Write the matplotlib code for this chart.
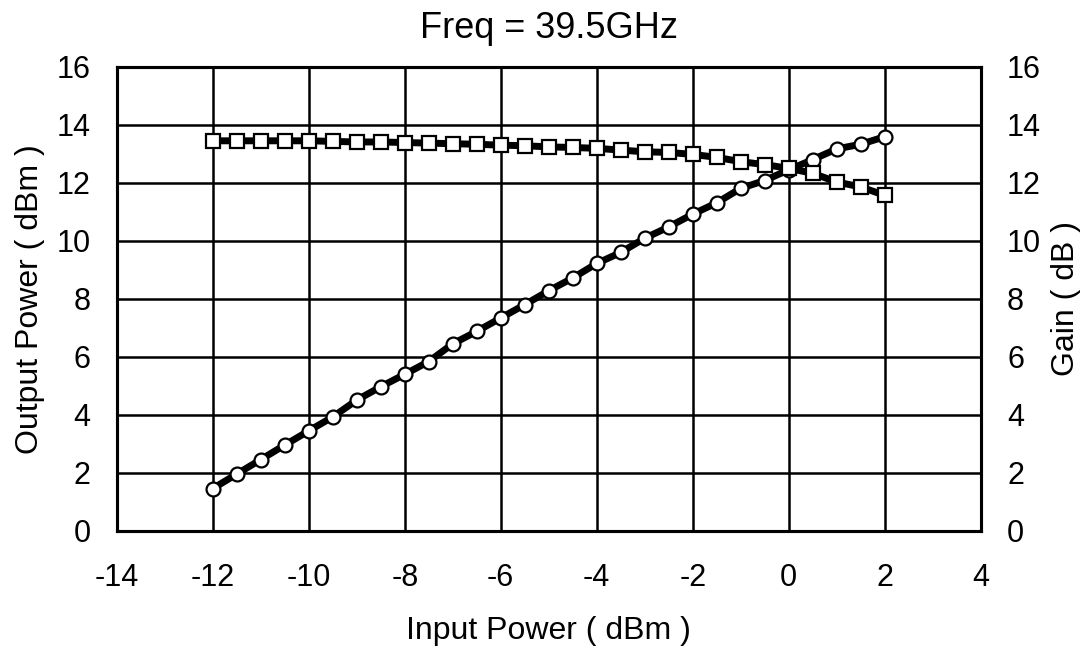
import matplotlib
matplotlib.use("Agg")
import matplotlib.pyplot as plt

plt.rcParams['font.family'] = ['Liberation Sans', 'DejaVu Sans']
plt.rcParams['axes.unicode_minus'] = False

# --- dados ---
input_power = [-12, -11.5, -11, -10.5, -10, -9.5, -9, -8.5, -8, -7.5, -7, -6.5, -6, -5.5,
               -5, -4.5, -4, -3.5, -3, -2.5, -2, -1.5, -1, -0.5, 0, 0.5, 1, 1.5, 2]
output_power = [1.46, 1.96, 2.46, 2.96, 3.45, 3.93, 4.51, 4.97, 5.40, 5.84, 6.45, 6.88, 7.34, 7.80,
                8.28, 8.72, 9.22, 9.60, 10.09, 10.48, 10.92, 11.31, 11.81, 12.08, 12.45, 12.80,
                13.17, 13.33, 13.59]
gain = [13.45, 13.45, 13.45, 13.45, 13.45, 13.43, 13.41, 13.41, 13.39, 13.37, 13.35, 13.33, 13.30,
        13.28, 13.24, 13.22, 13.19, 13.13, 13.07, 13.05, 12.98, 12.88, 12.73, 12.63, 12.50, 12.33,
        12.03, 11.86, 11.57]

x_ticks = [-14, -12, -10, -8, -6, -4, -2, 0, 2, 4]
y_ticks = [0, 2, 4, 6, 8, 10, 12, 14, 16]

fig = plt.figure(figsize=(10.92, 6.49), dpi=100)
ax = fig.add_axes([0.107, 0.182, 0.791, 0.715])

# curvas
ax.plot(input_power, output_power, color='black', lw=5, marker='o', ms=10,
        mfc='white', mec='black', mew=1.6, zorder=3)
ax.plot(input_power, gain, color='black', lw=5, marker='s', ms=10,
        mfc='white', mec='black', mew=1.6, zorder=4)

ax.set_xlim(-14, 4)
ax.set_ylim(0, 16)
ax.set_xticks(x_ticks)
ax.set_yticks(y_ticks)
ax.grid(True, color='black', lw=1.8)
ax.set_axisbelow(True)
ax.tick_params(axis='x', length=0, labelsize=22, pad=23)
ax.tick_params(axis='y', length=0, labelsize=22, pad=19)
for s in ax.spines.values():
    s.set_linewidth(2.2)

ax.set_title('Freq = 39.5GHz', fontsize=26, pad=21)
ax.set_xlabel('Input Power ( dBm )', fontsize=23)
ax.set_ylabel('Output Power ( dBm )', fontsize=23)
ax.xaxis.set_label_coords(0.5, -0.183)
ax.yaxis.set_label_coords(-0.083, 0.5)

# eixo direito (ganho)
ax2 = ax.twinx()
ax2.set_ylim(0, 16)
ax2.set_yticks(y_ticks)
ax2.tick_params(length=0, labelsize=22, pad=19)
ax2.set_ylabel('Gain ( dB )', fontsize=23)
ax2.yaxis.set_label_coords(1.082, 0.5)
for s in ax2.spines.values():
    s.set_linewidth(2.2)

fig.savefig('out.png', dpi=100)
